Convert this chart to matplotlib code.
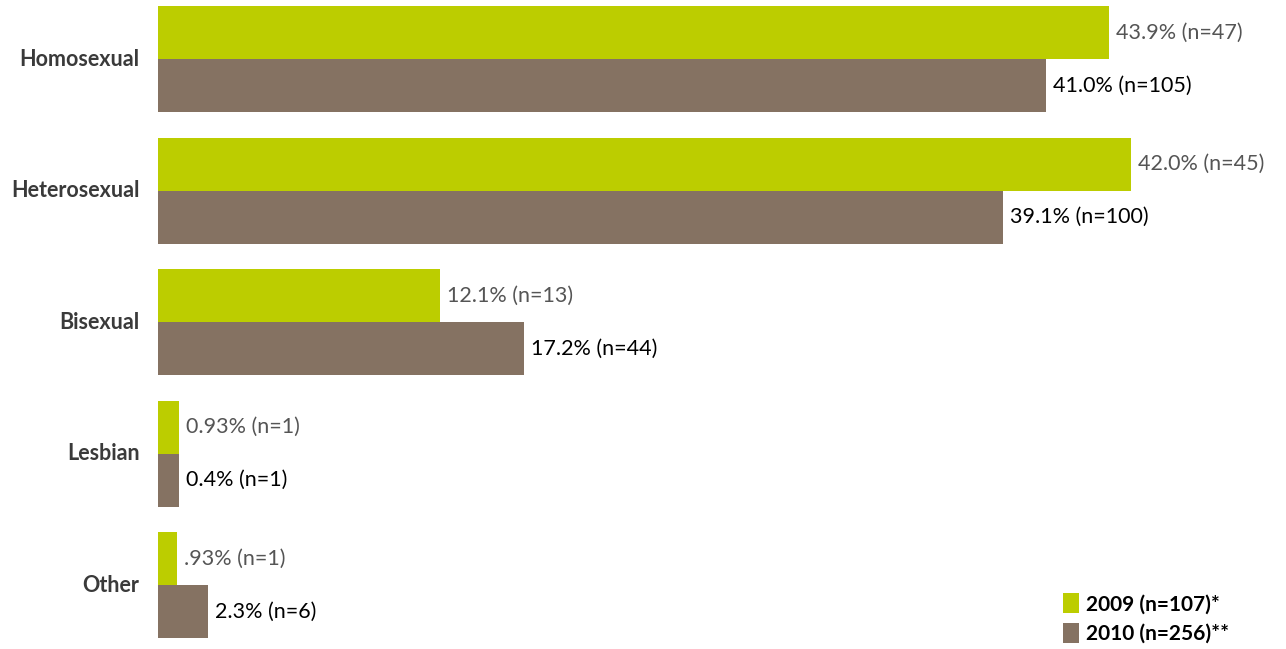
import matplotlib
matplotlib.use("Agg")
import matplotlib.pyplot as plt
from matplotlib.patches import Patch
import numpy as np

categories = ["Homosexual", "Heterosexual", "Bisexual", "Lesbian", "Other"]
# bar lengths as drawn in the reference (percent)
values_2009 = [43.9, 44.9, 13.0, 0.97, 0.88]
values_2010 = [41.0, 39.0, 16.9, 0.97, 2.3]
labels_2009 = ["43.9% (n=47)", "42.0% (n=45)", "12.1% (n=13)", "0.93% (n=1)", ".93% (n=1)"]
labels_2010 = ["41.0% (n=105)", "39.1% (n=100)", "17.2% (n=44)", "0.4% (n=1)", "2.3% (n=6)"]
legend_labels = ["2009 (n=107)*", "2010 (n=256)**"]

green = "#bccd00"
brown = "#857262"

plt.rcParams['font.family'] = ['Lato', 'DejaVu Sans']

fig = plt.figure(figsize=(12.86, 6.49), dpi=100)
ax = fig.add_axes([158/1286, 0, 1 - 158/1286, 1])

y = np.arange(len(categories))
h = 53/131.5
ax.barh(y - h/2, values_2009, height=h, color=green)
ax.barh(y + h/2, values_2010, height=h, color=brown)

ax.set_xlim(0, (1286-158)/21.66)
ax.set_ylim((649-59)/131.5, -59/131.5)

for i in range(len(categories)):
    ax.text(values_2009[i] + 0.33, y[i] - h/2, labels_2009[i], va='center', ha='left',
            fontsize=15.5, color='#555555')
    ax.text(values_2010[i] + 0.33, y[i] + h/2, labels_2010[i], va='center', ha='left',
            fontsize=15.5, color='black')
    ax.text(-0.85, y[i], categories[i], va='center', ha='right', fontsize=15.5,
            fontweight='bold', color='#3a3a3a')

ax.axis('off')

handles = [Patch(facecolor=green), Patch(facecolor=brown)]
leg = ax.legend(handles, legend_labels, loc='lower left', bbox_to_anchor=(1044/1286, -0.021),
                bbox_transform=fig.transFigure, frameon=False, handlelength=0.8,
                handleheight=1.1, handletextpad=0.3, labelspacing=0.4,
                prop={'weight': 'bold', 'size': 15})

fig.savefig("out.png", dpi=100)
